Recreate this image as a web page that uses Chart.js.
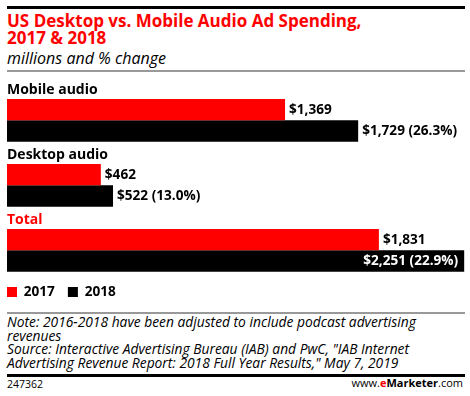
<!DOCTYPE html>
<html>
<head>
<meta charset="utf-8">
<script src="https://cdn.jsdelivr.net/npm/chart.js@4.4.1/dist/chart.umd.min.js"></script>
<style>
    body { margin: 0; width: 470px; height: 396px; position: relative; overflow: hidden; background: #fff; font-family: 'Open Sans', sans-serif; color: #000; }
    .abs { position: absolute; white-space: nowrap; }
    #topRule { left: 7px; top: 6px; width: 458px; height: 3px; background: #000; }
    #title { left: 7px; top: 12px; font-weight: bold; font-size: 17px; line-height: 17px; color: #f00; }
    #subtitle { left: 7px; top: 50px; font-style: italic; font-size: 16px; line-height: 16px; }
    .grayRule { left: 7px; width: 458px; height: 2px; background: #999; }
    #chartBox { left: -6px; top: 60px; width: 476px; height: 252px; }
    #note { left: 7px; top: 315px; font-style: italic; font-size: 13.8px; line-height: 13.7px; }
    #botRule { left: 7px; top: 374px; width: 458px; height: 3px; background: #000; }
    #chartId { left: 7px; top: 378px; font-size: 10.5px; line-height: 12px; }
    #site { right: 7px; top: 377px; font-size: 11px; line-height: 12px; }
    #site b { font-weight: bold; }
</style>
</head>
<body>
<div class="abs" id="topRule"></div>
<div class="abs" id="title">US Desktop vs. Mobile Audio Ad Spending,<br>2017 &amp; 2018</div>
<div class="abs" id="subtitle">millions and % change</div>
<div class="abs grayRule" style="top:70px"></div>
<div class="abs" id="chartBox"><canvas id="spendChart" width="476" height="252"></canvas></div>
<div class="abs grayRule" style="top:312px"></div>
<div class="abs" id="note">Note: 2016-2018 have been adjusted to include podcast advertising<br>revenues<br>Source: Interactive Advertising Bureau (IAB) and PwC, "IAB Internet<br>Advertising Revenue Report: 2018 Full Year Results," May 7, 2019</div>
<div class="abs" id="botRule"></div>
<div class="abs" id="chartId">247362</div>
<div class="abs" id="site">www.<b style="color:#f00">e</b><b>Marketer</b>.com</div>
<script>
const categories = ['Mobile audio', 'Desktop audio', 'Total'];
const seriesNames = ['2017', '2018'];
const spend2017 = [1369, 462, 1831];
const spend2018 = [1729, 522, 2251];
const change2018 = [26.3, 13.0, 22.9];

const RED = '#ff0000';
const BLACK = '#000000';

// dollar labels at the end of each bar, % change added on the 2018 ones
const valueLabels = {
    id: 'valueLabels',
    afterDatasetsDraw(chart) {
        const ctx = chart.ctx;
        const area = chart.chartArea;
        ctx.save();
        ctx.font = 'bold 13.6px "Open Sans"';
        ctx.textBaseline = 'middle';
        [1, 2].forEach((di) => {
            chart.getDatasetMeta(di).data.forEach((bar, i) => {
                let text = '$' + chart.data.datasets[di].data[i].toLocaleString('en-US');
                if (di === 2) text += ' (' + change2018[i].toFixed(1) + '%)';
                const w = ctx.measureText(text).width;
                if (bar.x + 4 + w > area.right) {
                    ctx.fillStyle = '#fff';
                    ctx.textAlign = 'right';
                    ctx.fillText(text, bar.x - 6, bar.y);
                } else {
                    ctx.fillStyle = '#000';
                    ctx.textAlign = 'left';
                    ctx.fillText(text, bar.x + 4, bar.y);
                }
            });
        });
        ctx.restore();
    },
};

new Chart(document.getElementById('spendChart'), {
    type: 'bar',
    data: {
        labels: categories,
        datasets: [
            // empty slot above each pair of bars, holds the group label
            { label: 'spacer', data: categories.map(() => null) },
            { label: seriesNames[0], data: spend2017, backgroundColor: RED },
            { label: seriesNames[1], data: spend2018, backgroundColor: BLACK },
        ],
    },
    options: {
        indexAxis: 'y',
        responsive: false,
        animation: false,
        devicePixelRatio: 1,
        categoryPercentage: 0.985,
        barPercentage: 1,
        layout: { padding: { left: 0, right: 5, top: 17.2, bottom: 3.2 } },
        scales: {
            x: { display: false, min: 0, max: 2255 },
            y: {
                grid: { display: false },
                border: { display: false },
                ticks: {
                    mirror: true,
                    padding: 0,
                    labelOffset: -20,
                    font: { family: 'Open Sans', weight: 'bold', size: 14 },
                    color: (c) => (c.index === 2 ? RED : BLACK),
                },
                afterFit(scale) {
                    scale.width = 13;
                },
            },
        },
        plugins: {
            legend: {
                position: 'bottom',
                align: 'start',
                labels: {
                    boxWidth: 10,
                    boxHeight: 10,
                    padding: 13,
                    color: '#000',
                    font: { family: 'Open Sans', weight: 'bold', size: 13.6 },
                    filter: (item) => item.datasetIndex > 0,
                },
            },
            tooltip: { enabled: false },
        },
    },
    plugins: [valueLabels],
});
</script>
</body>
</html>
